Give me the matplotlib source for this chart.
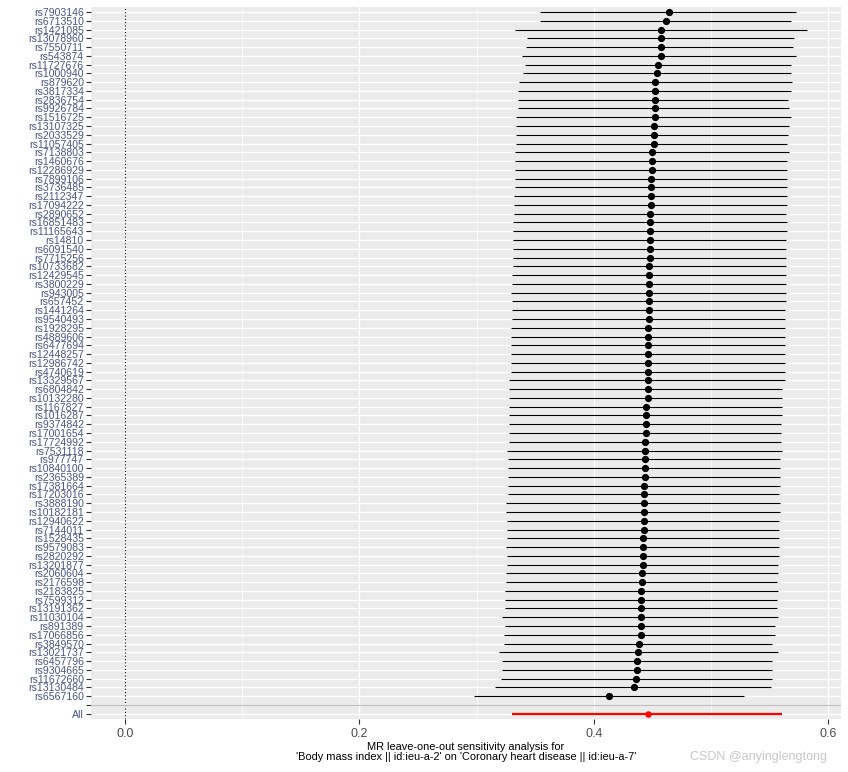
import matplotlib
matplotlib.use("Agg")
from matplotlib import pyplot as plt
from matplotlib.ticker import MultipleLocator, FormatStrFormatter

plt.rcParams['font.family'] = ['Liberation Sans', 'DejaVu Sans']

# leave-one-out results, top row first
snps = [
    "rs7903146", "rs6713510", "rs1421085", "rs13078960", "rs7550711", "rs543874",
    "rs11727676", "rs1000940", "rs879620", "rs3817334", "rs2836754", "rs9926784",
    "rs1516725", "rs13107325", "rs2033529", "rs11057405", "rs7138803", "rs1460676",
    "rs12286929", "rs7899106", "rs3736485", "rs2112347", "rs17094222", "rs2890652",
    "rs16851483", "rs11165643", "rs14810", "rs6091540", "rs7715256", "rs10733682",
    "rs12429545", "rs3800229", "rs943005", "rs657452", "rs1441264", "rs9540493",
    "rs1928295", "rs4889606", "rs6477694", "rs12448257", "rs12986742", "rs4740619",
    "rs13329567", "rs6804842", "rs10132280", "rs1167827", "rs1016287", "rs9374842",
    "rs17001654", "rs17724992", "rs7531118", "rs977747", "rs10840100", "rs2365389",
    "rs17381664", "rs17203016", "rs3888190", "rs10182181", "rs12940622", "rs7144011",
    "rs1528435", "rs9579083", "rs2820292", "rs13201877", "rs2060604", "rs2176598",
    "rs2183825", "rs7599312", "rs13191362", "rs11030104", "rs891389", "rs17066856",
    "rs3849570", "rs13021737", "rs6457796", "rs9304665", "rs11672660", "rs13130484",
    "rs6567160",
]
est = [
    0.464, 0.462, 0.457, 0.457, 0.457, 0.457, 0.455, 0.454, 0.452, 0.452,
    0.452, 0.452, 0.452, 0.451, 0.451, 0.451, 0.450, 0.450, 0.450, 0.449,
    0.449, 0.449, 0.449, 0.448, 0.448, 0.448, 0.448, 0.448, 0.448, 0.447,
    0.447, 0.447, 0.447, 0.447, 0.447, 0.447, 0.446, 0.446, 0.446, 0.446,
    0.446, 0.446, 0.446, 0.446, 0.446, 0.445, 0.445, 0.445, 0.445, 0.444,
    0.444, 0.444, 0.444, 0.444, 0.443, 0.443, 0.443, 0.443, 0.443, 0.443,
    0.442, 0.442, 0.442, 0.442, 0.441, 0.441, 0.440, 0.440, 0.440, 0.440,
    0.440, 0.440, 0.439, 0.438, 0.437, 0.437, 0.436, 0.434, 0.413,
]
lo = [
    0.354, 0.354, 0.333, 0.343, 0.342, 0.339, 0.341, 0.340, 0.336, 0.335,
    0.335, 0.335, 0.334, 0.334, 0.334, 0.334, 0.333, 0.333, 0.333, 0.333,
    0.333, 0.332, 0.332, 0.332, 0.331, 0.331, 0.331, 0.331, 0.331, 0.331,
    0.330, 0.330, 0.329, 0.330, 0.330, 0.330, 0.329, 0.329, 0.329, 0.329,
    0.329, 0.329, 0.328, 0.328, 0.328, 0.328, 0.328, 0.328, 0.328, 0.328,
    0.326, 0.327, 0.327, 0.327, 0.327, 0.327, 0.325, 0.325, 0.326, 0.326,
    0.326, 0.325, 0.326, 0.326, 0.325, 0.325, 0.324, 0.324, 0.324, 0.322,
    0.324, 0.323, 0.323, 0.319, 0.322, 0.322, 0.321, 0.316, 0.298,
]
hi = [
    0.573, 0.568, 0.582, 0.571, 0.570, 0.573, 0.568, 0.568, 0.569, 0.568,
    0.566, 0.567, 0.568, 0.567, 0.566, 0.565, 0.567, 0.565, 0.565, 0.565,
    0.565, 0.565, 0.565, 0.564, 0.565, 0.565, 0.564, 0.564, 0.564, 0.564,
    0.564, 0.564, 0.564, 0.564, 0.563, 0.563, 0.563, 0.563, 0.563, 0.563,
    0.563, 0.563, 0.563, 0.561, 0.561, 0.561, 0.561, 0.560, 0.560, 0.560,
    0.561, 0.559, 0.559, 0.559, 0.559, 0.558, 0.559, 0.559, 0.558, 0.558,
    0.558, 0.558, 0.558, 0.557, 0.557, 0.556, 0.557, 0.556, 0.556, 0.557,
    0.555, 0.555, 0.552, 0.557, 0.552, 0.552, 0.552, 0.551, 0.528,
]
all_est, all_lo, all_hi = 0.446, 0.330, 0.561

W, H = 848, 772
fig = plt.figure(figsize=(W / 100, H / 100), dpi=100)
ax = fig.add_axes([91 / W, (H - 719) / H, (841 - 91) / W, (719 - 6.7) / H])

px = 0.72  # one pixel in points
ax.set_facecolor("#EBEBEB")
for s in ax.spines.values():
    s.set_visible(False)

# y positions: All = 1, blank = 2, SNPs from 3 (bottom) up
n = len(snps)
ypos = [n + 2 - i for i in range(n)]
labels = snps + ["", "All"]
ticks = ypos + [2, 1]

ax.set_xlim(-0.029, 0.611)
ax.set_ylim(0.4, n + 2.6)
ax.xaxis.set_major_locator(MultipleLocator(0.2))
ax.xaxis.set_minor_locator(MultipleLocator(0.1))
ax.xaxis.set_major_formatter(FormatStrFormatter("%.1f"))
ax.set_yticks(ticks)
ax.set_yticklabels(labels)

ax.grid(which="major", color="white", linewidth=1.4 * px, zorder=0)
ax.grid(which="minor", axis="x", color="white", linewidth=0.7 * px, zorder=0)
ax.set_axisbelow(True)

ax.axvline(0, color="black", linestyle=(0, (1, 2)), linewidth=1.1 * px, zorder=1)
ax.axhline(2, color="#BEBEBE", linewidth=1.2 * px, zorder=1)

for y, e, l, h in zip(ypos, est, lo, hi):
    ax.plot([l, h], [y, y], color="black", linewidth=1.1 * px, zorder=2,
            solid_capstyle="butt")
ax.plot(est, ypos, "o", color="black", markersize=4.2, zorder=3)

ax.plot([all_lo, all_hi], [1, 1], color="red", linewidth=2.2 * px, zorder=2,
        solid_capstyle="butt")
ax.plot([all_est], [1], "o", color="red", markersize=3.6, zorder=3)

ax.tick_params(axis="y", length=3.7, width=0.8, color="#333333",
               labelsize=7.6, labelcolor="#4b5585", pad=1.5)
ax.tick_params(axis="x", which="major", length=3.7, width=0.8,
               color="#333333", labelsize=9, labelcolor="#4D4D4D", pad=3)
ax.tick_params(axis="x", which="minor", length=0)

cx = (91 + 841) / 2 / W
fig.text(cx, 1 - 746.7 / H, "MR leave-one-out sensitivity analysis for",
         ha="center", va="center", fontsize=7.9, color="black")
fig.text(cx, 1 - 757.5 / H,
         "'Body mass index || id:ieu-a-2' on 'Coronary heart disease || id:ieu-a-7'",
         ha="center", va="center", fontsize=7.9, color="black")
fig.text(827 / W, 1 - 756.7 / H, "CSDN @anyinglengtong", ha="right", va="center",
         fontsize=9, color="#C8C8C8")

fig.savefig("out.png", dpi=100)
